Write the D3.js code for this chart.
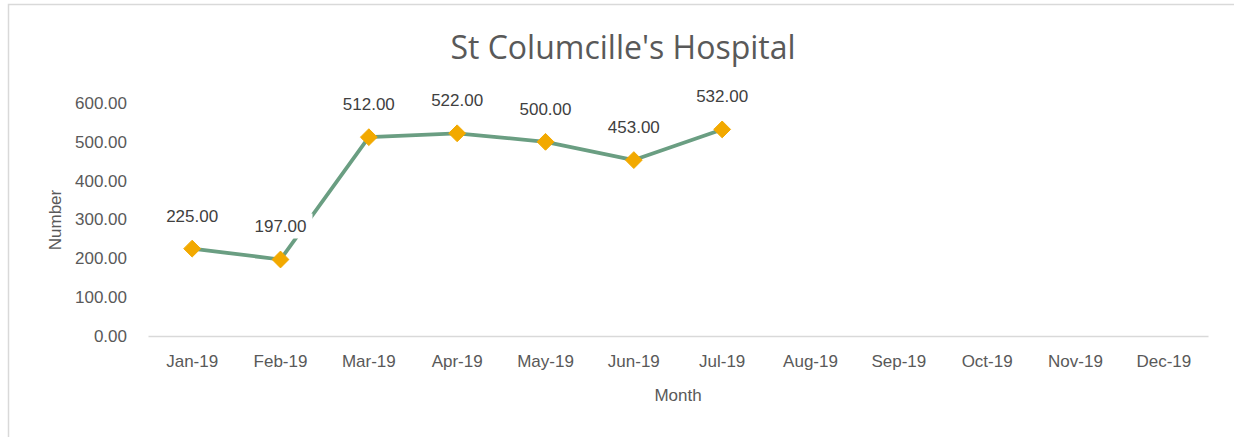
<!DOCTYPE html>
<html>
<head>
<meta charset="utf-8">
<script src="https://cdn.jsdelivr.net/npm/d3@7"></script>
<style>
  body { margin: 0; background: #fff; }
  text { font-family: "Liberation Sans", Arial, sans-serif; }
</style>
</head>
<body>
<svg id="chart" width="1234" height="437"></svg>
<script>
// chart data
const months = ["Jan-19", "Feb-19", "Mar-19", "Apr-19", "May-19", "Jun-19",
                "Jul-19", "Aug-19", "Sep-19", "Oct-19", "Nov-19", "Dec-19"];
const counts = [225, 197, 512, 522, 500, 453, 532];
const yTicks = [0, 100, 200, 300, 400, 500, 600];

const svg = d3.select("#chart");
const labelFont = "'Liberation Sans', Arial, sans-serif";

// outer chart border (only top and left show in the frame)
svg.append("rect")
    .attr("x", 8.5)
    .attr("y", 4.5)
    .attr("width", 1240)
    .attr("height", 440)
    .attr("fill", "#fff")
    .attr("stroke", "#d9d9d9")
    .attr("stroke-width", 1.5);

const x = d3.scaleBand()
    .domain(months)
    .range([148, 1208]);

const y = d3.scaleLinear()
    .domain([0, 600])
    .range([336, 103]);

// title
svg.append("text")
    .attr("x", 623)
    .attr("y", 59)
    .attr("text-anchor", "middle")
    .attr("fill", "#595959")
    .style("font-family", "'Open Sans', sans-serif")
    .style("font-size", "32px")
    .text("St Columcille's Hospital");

// y axis labels
const yAxis = d3.axisLeft(y)
    .tickValues(yTicks)
    .tickFormat(d3.format(".2f"))
    .tickSize(0)
    .tickPadding(0);

svg.append("g")
    .attr("transform", "translate(127,0)")
    .call(yAxis)
    .call(g => g.select(".domain").remove())
    .selectAll("text")
    .attr("fill", "#595959")
    .style("font-size", "17px")
    .style("font-family", labelFont);

// x axis
const xAxis = d3.axisBottom(x).tickSize(0).tickPadding(19);
svg.append("g")
    .attr("transform", "translate(0,336)")
    .call(xAxis)
    .call(g => g.select(".domain")
        .attr("stroke", "#d9d9d9")
        .attr("stroke-width", 1.5))
    .selectAll("text")
    .attr("fill", "#595959")
    .style("font-size", "17px")
    .style("font-family", labelFont);

// axis titles
svg.append("text")
    .attr("transform", "translate(61,220) rotate(-90)")
    .attr("text-anchor", "middle")
    .attr("fill", "#595959")
    .style("font-size", "17px")
    .text("Number");

svg.append("text")
    .attr("x", 678)
    .attr("y", 401)
    .attr("text-anchor", "middle")
    .attr("fill", "#595959")
    .style("font-size", "17px")
    .text("Month");

const pts = counts.map((v, i) => ({ m: months[i], v: v }));
const cx = d => x(d.m) + x.bandwidth() / 2;

// line
const line = d3.line()
    .x(cx)
    .y(d => y(d.v));

svg.append("path")
    .datum(pts)
    .attr("d", line)
    .attr("fill", "none")
    .attr("stroke", "#6a9e82")
    .attr("stroke-width", 3.75)
    .attr("stroke-linejoin", "round");

// data labels with white background (covers the line like Excel does)
const labels = svg.append("g");
pts.forEach(d => {
  const g = labels.append("g")
      .attr("transform", `translate(${cx(d)},${y(d.v) - 33})`);
  g.append("rect")
      .attr("x", -32)
      .attr("y", -13)
      .attr("width", 64)
      .attr("height", 25)
      .attr("fill", "#fff");
  g.append("text")
      .attr("text-anchor", "middle")
      .attr("dy", "0.35em")
      .attr("fill", "#404040")
      .style("font-size", "17px")
      .text(d3.format(".2f")(d.v));
});

// diamond markers
svg.append("g")
    .selectAll("path")
    .data(pts)
    .enter()
    .append("path")
    .attr("d", d3.symbol().type(d3.symbolDiamond2).size(180))
    .attr("transform", d => `translate(${cx(d)},${y(d.v)})`)
    .attr("fill", "#f2a900")
    .attr("stroke", "#f2a900")
    .attr("stroke-width", 1);
</script>
</body>
</html>
